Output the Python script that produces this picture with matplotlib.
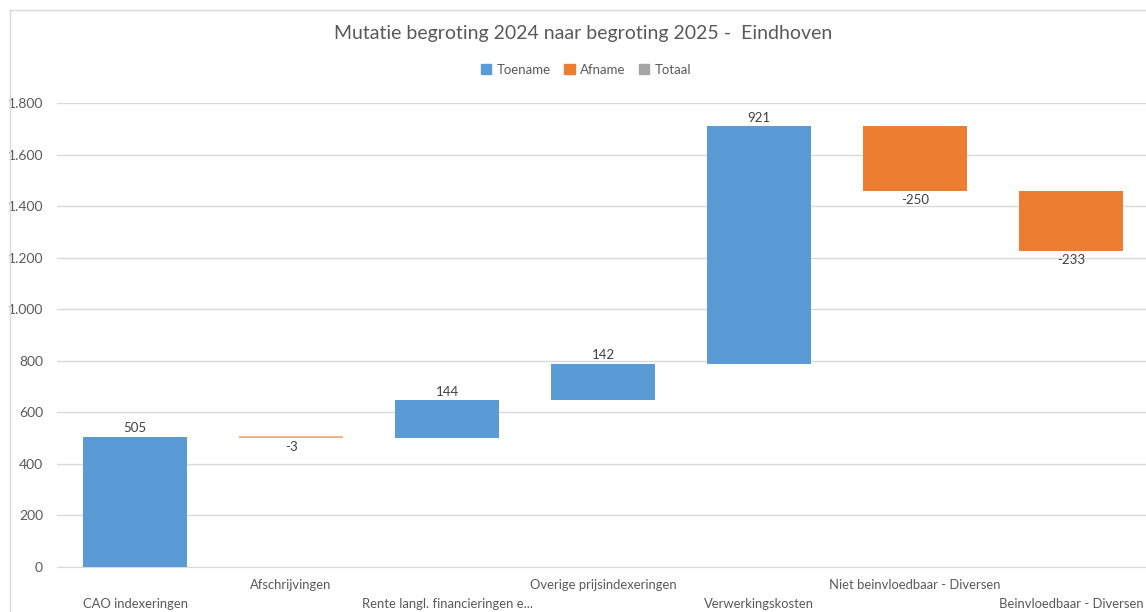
import numpy as np
import matplotlib
matplotlib.use("Agg")
import matplotlib.pyplot as plt
from matplotlib.lines import Line2D
from matplotlib.patches import Patch
from matplotlib.ticker import FuncFormatter

plt.rcParams['font.family'] = ['Lato', 'DejaVu Sans']

# data
categories = ['CAO indexeringen', 'Afschrijvingen', 'Rente langl. financieringen e...',
              'Overige prijsindexeringen', 'Verwerkingskosten',
              'Niet beinvloedbaar - Diversen', 'Beinvloedbaar - Diversen']
changes = [505, -3, 144, 142, 921, -250, -233]

blue = '#5B9BD5'
orange = '#ED7D31'
gray = '#A5A5A5'
txt = '#595959'

x = np.arange(len(categories))
vals = np.array(changes)
ends = np.cumsum(vals)
starts = ends - vals
bottoms = np.minimum(starts, ends)
heights = np.abs(vals)
colors = [blue if v >= 0 else orange for v in vals]

fig = plt.figure(figsize=(11.46, 6.12), dpi=100)
ax = fig.add_axes([57/1146, 1 - 567/612, 1 - 57/1146, (567 - 103)/612])

ax.bar(x, heights, bottom=bottoms, width=0.667, color=colors, zorder=3)
# the -3 bar is almost invisible, Excel draws it as a thin line
for i, v in enumerate(vals):
    if abs(v) < 10:
        ax.hlines(ends[i] + abs(v), x[i] - 0.333, x[i] + 0.333, color='#F4B183', lw=1.2, zorder=4)

for i, v in enumerate(vals):
    if v >= 0:
        ax.text(x[i], ends[i] + 10, f'{v}', ha='center', va='bottom', fontsize=9.5, color='#404040')
    else:
        ax.text(x[i], ends[i] - 12, f'{v}', ha='center', va='top', fontsize=9.5, color='#404040')

ax.set_ylim(0, 1800)
ax.set_xlim(-0.5, 6.48)
ax.set_yticks(np.arange(0, 1801, 200))
ax.yaxis.set_major_formatter(FuncFormatter(lambda v, p: f'{int(v):,}'.replace(',', '.')))
ax.yaxis.grid(True, color='#D9D9D9', lw=1, zorder=0)
ax.tick_params(axis='y', length=0, labelsize=10, labelcolor=txt, pad=10)
ax.tick_params(axis='x', length=0)
for s in ['top', 'right', 'left']:
    ax.spines[s].set_visible(False)
ax.spines['bottom'].set_color('#D9D9D9')

ax.set_xticks([])
for i, c in enumerate(categories):
    yy = -0.038 if i % 2 == 1 else -0.079
    ax.text(x[i], yy * 1800, c, ha='center', va='center', fontsize=9.4, color=txt, clip_on=False)

fig.text(583/1146, 1 - 33/612, 'Mutatie begroting 2024 naar begroting 2025 -  Eindhoven',
         ha='center', va='center', fontsize=14, color=txt)

handles = [Patch(color=blue), Patch(color=orange), Patch(color=gray)]
fig.legend(handles, ['Toename', 'Afname', 'Totaal'], loc='center', bbox_to_anchor=(586/1146, 1 - 70/612),
           ncol=3, frameon=False, fontsize=9.5, handlelength=0.8, handleheight=0.8,
           handletextpad=0.4, columnspacing=1.0, labelcolor=txt)

# chart area border
fig.add_artist(Line2D([10/1146, 10/1146], [0, 1 - 10/612], color='#D9D9D9', lw=1))
fig.add_artist(Line2D([10/1146, 1], [1 - 10/612, 1 - 10/612], color='#D9D9D9', lw=1))

fig.savefig('out.png', dpi=100)
